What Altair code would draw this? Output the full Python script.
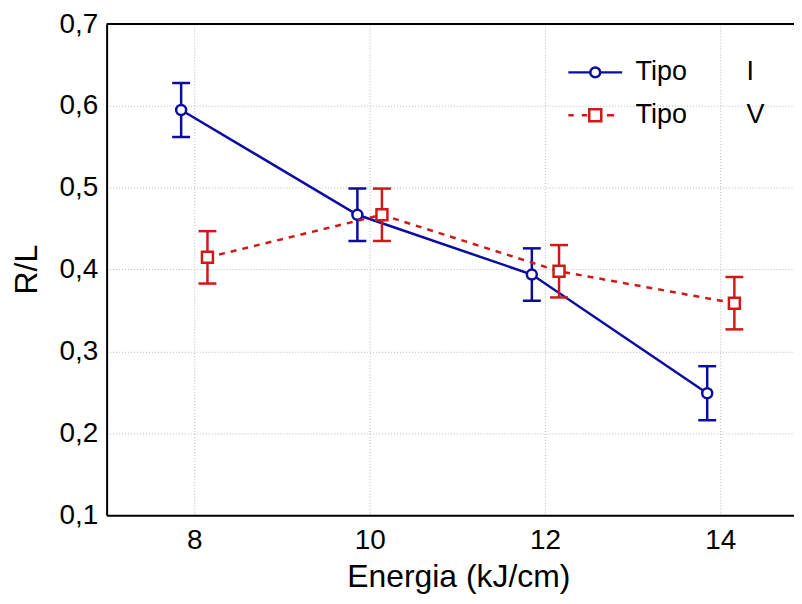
import altair as alt
import pandas as pd

# ---- data ----
tipos = ["I", "V"]
energia_I = [7.85, 9.86, 11.85, 13.85]
rl_I = [0.595, 0.467, 0.394, 0.249]
err_I = [0.033, 0.032, 0.032, 0.033]
energia_V = [8.15, 10.14, 12.16, 14.16]
rl_V = [0.415, 0.467, 0.398, 0.359]
err_V = [0.032, 0.032, 0.032, 0.032]

x_ticks = [8, 10, 12, 14]
y_ticks = [0.1, 0.2, 0.3, 0.4, 0.5, 0.6, 0.7]

BLUE = "#0c0ca0"
RED = "#d01818"
FONT = "Liberation Sans"

rows = []
for t, xs, ys, es in [("I", energia_I, rl_I, err_I), ("V", energia_V, rl_V, err_V)]:
    for x, y, e in zip(xs, ys, es):
        rows.append({"tipo": t, "energia": x, "rl": y, "lo": y - e, "hi": y + e})
df = pd.DataFrame(rows)

xscale = alt.Scale(domain=[7, 14.84], nice=False, zero=False)
yscale = alt.Scale(domain=[0.1, 0.7], nice=False, zero=False)

xaxis = alt.Axis(
    values=x_ticks, title="Energia (kJ/cm)", grid=True, format="d",
    gridColor="#b8b8b8", gridDash=[1, 2], gridWidth=1,
    domainColor="black", domainWidth=2, tickSize=0,
    labelFont=FONT, labelFontSize=28, labelColor="black", labelPadding=11,
    titleFont=FONT, titleFontSize=32, titleFontWeight="normal", titleColor="black",
    titleX=353, titleY=62, titleBaseline="middle", titleAlign="center",
)
yaxis = alt.Axis(
    values=y_ticks, title="R/L", grid=True,
    gridColor="#b8b8b8", gridDash=[1, 2], gridWidth=1,
    domainColor="black", domainWidth=2, tickSize=0,
    labelExpr="replace(format(datum.value, '.1f'), '.', ',')",
    labelFont=FONT, labelFontSize=28, labelColor="black", labelPadding=9,
    titleFont=FONT, titleFontSize=32, titleFontWeight="normal", titleColor="black",
    titleX=-80, titleY=246, titleAngle=270, titleBaseline="middle", titleAlign="center",
)

base = alt.Chart(df)


def series(t, color, shape, size, dash):
    d = base.transform_filter(alt.datum.tipo == t)
    line_kw = dict(color=color, strokeWidth=2.5)
    if dash:
        line_kw["strokeDash"] = dash
    line = d.mark_line(**line_kw).encode(
        x=alt.X("energia:Q", scale=xscale, axis=xaxis),
        y=alt.Y("rl:Q", scale=yscale, axis=yaxis),
    )
    rule = d.mark_rule(color=color, strokeWidth=2.5).encode(
        x="energia:Q", y="lo:Q", y2="hi:Q"
    )
    cap_lo = d.mark_tick(color=color, orient="horizontal", size=18, thickness=2.5, opacity=1).encode(
        x="energia:Q", y="lo:Q"
    )
    cap_hi = d.mark_tick(color=color, orient="horizontal", size=18, thickness=2.5, opacity=1).encode(
        x="energia:Q", y="hi:Q"
    )
    pts = d.mark_point(
        shape=shape, size=size, filled=True, fill="white", stroke=color,
        strokeWidth=2.5, opacity=1,
    ).encode(x="energia:Q", y="rl:Q")
    return [line, rule, cap_lo, cap_hi, pts]


# legend-only layer: custom symbols (line + marker) drawn by the legend
circ = "M-0.55,0A0.55,0.55 0 1,0 0.55,0A0.55,0.55 0 1,0 -0.55,0Z"
sym_I = "M-3,0L-0.55,0M0.55,0L3,0" + circ
sym_V = ("M-3,0L-2.4,0M-1.5,0L-0.9,0M1.3,0L2.1,0"
         "M-0.67,-0.67L0.67,-0.67L0.67,0.67L-0.67,0.67Z")

nbsp = "\u00a0" * 8
legend = alt.Legend(
    title=None, orient="none", legendX=460, legendY=35, padding=0,
    symbolSize=324, symbolStrokeWidth=2.5, symbolOffset=17, labelOffset=27,
    labelFont=FONT, labelFontSize=27, labelColor="black", labelLimit=300,
    rowPadding=15, symbolOpacity=1,
    labelExpr="'Tipo" + nbsp + "' + datum.label",
)
legend_layer = base.transform_filter("false").mark_point(filled=False, strokeWidth=2.5, opacity=1).encode(
    x="energia:Q", y="rl:Q",
    shape=alt.Shape("tipo:N", scale=alt.Scale(domain=tipos, range=[sym_I, sym_V]), legend=legend),
    color=alt.Color("tipo:N", scale=alt.Scale(domain=tipos, range=[BLUE, RED]), legend=legend),
)

top_border = alt.Chart(pd.DataFrame({"v": [y_ticks[-1]]})).mark_rule(
    color="black", strokeWidth=2
).encode(y=alt.Y("v:Q", scale=yscale))

layers = series("I", BLUE, "circle", 100, None) + series("V", RED, "square", 121, [6, 6])
chart = alt.layer(*layers, top_border, legend_layer).properties(
    width=690, height=493,
    autosize=alt.AutoSizeParams(type="none"),
    padding={"left": 99, "top": 15, "right": 0, "bottom": 80},
).configure_view(stroke=None).configure(background="white")

chart.save("out.html", embed_options={"renderer": "svg", "actions": False})
